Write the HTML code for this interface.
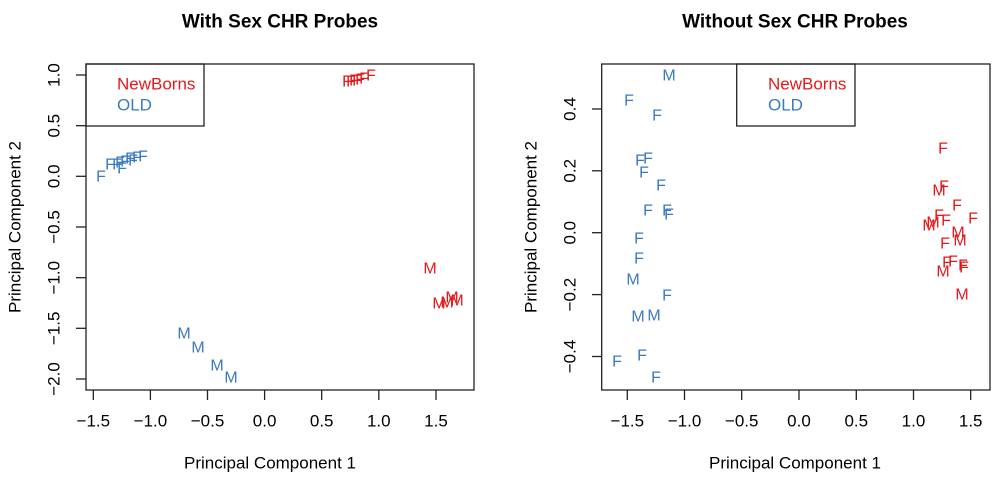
<!DOCTYPE html>
<html><head><meta charset="utf-8"><style>
body{margin:0;background:#fff}
svg{display:block;font-family:"Liberation Sans",Arial,sans-serif}
.r{fill:#e31a1c}.b{fill:#3a7bbf}
text{dominant-baseline:central}
.pt{font-size:16px;text-anchor:middle}
.tk{font-size:17px;text-anchor:middle;fill:#000}
</style></head><body>
<svg width="1000" height="479" viewBox="0 0 1000 479">
<!-- LEFT PLOT -->
<text x="280" y="22" font-size="19" font-weight="bold" text-anchor="middle">With Sex CHR Probes</text>
<rect x="86" y="64" width="388" height="326" fill="none" stroke="#222" stroke-width="1.3"/>
<g stroke="#222" stroke-width="1.3">
<line x1="93.3" y1="390" x2="93.3" y2="400"/><line x1="150.4" y1="390" x2="150.4" y2="400"/><line x1="207.5" y1="390" x2="207.5" y2="400"/><line x1="264.6" y1="390" x2="264.6" y2="400"/><line x1="321.7" y1="390" x2="321.7" y2="400"/><line x1="378.8" y1="390" x2="378.8" y2="400"/><line x1="436" y1="390" x2="436" y2="400"/>
<line x1="76" y1="75" x2="86" y2="75"/><line x1="76" y1="125.7" x2="86" y2="125.7"/><line x1="76" y1="176.3" x2="86" y2="176.3"/><line x1="76" y1="227" x2="86" y2="227"/><line x1="76" y1="277.7" x2="86" y2="277.7"/><line x1="76" y1="328.3" x2="86" y2="328.3"/><line x1="76" y1="379" x2="86" y2="379"/>
</g>
<g class="tk">
<text x="93.3" y="421">−1.5</text><text x="150.4" y="421">−1.0</text><text x="207.5" y="421">−0.5</text><text x="264.6" y="421">0.0</text><text x="321.7" y="421">0.5</text><text x="378.8" y="421">1.0</text><text x="436" y="421">1.5</text>
</g>
<g class="tk">
<text transform="translate(54,75) rotate(-90)">1.0</text><text transform="translate(54,125.7) rotate(-90)">0.5</text><text transform="translate(54,176.3) rotate(-90)">0.0</text><text transform="translate(54,227) rotate(-90)">−0.5</text><text transform="translate(54,277.7) rotate(-90)">−1.0</text><text transform="translate(54,328.3) rotate(-90)">−1.5</text><text transform="translate(54,379) rotate(-90)">−2.0</text>
</g>
<text x="270" y="463" font-size="17" text-anchor="middle">Principal Component 1</text>
<text transform="translate(15,227) rotate(-90)" font-size="17" text-anchor="middle">Principal Component 2</text>
<rect x="86" y="64" width="118" height="62" fill="none" stroke="#222" stroke-width="1.3"/>
<text x="117" y="84" font-size="17" class="r">NewBorns</text>
<text x="117" y="105" font-size="17" class="b">OLD</text>
<g class="pt r">
<text x="347" y="82">F</text><text x="351" y="82">F</text><text x="354" y="81">F</text><text x="357" y="81">F</text><text x="360" y="80">F</text><text x="364" y="79">F</text><text x="371" y="76">F</text>
<text x="430" y="269">M</text><text x="439" y="304">M</text><text x="447" y="303">M</text><text x="452" y="298">M</text><text x="457" y="301">M</text>
</g>
<g class="pt b">
<text x="101" y="177">F</text><text x="110" y="165">F</text><text x="117" y="165">F</text><text x="122" y="169">F</text><text x="125" y="162">F</text><text x="130" y="159">F</text><text x="137" y="158">F</text><text x="143" y="157">F</text><text x="120" y="163">F</text><text x="133" y="161">F</text>
<text x="184" y="334">M</text><text x="198" y="348">M</text><text x="217" y="366">M</text><text x="231" y="378">M</text>
</g>

<!-- RIGHT PLOT -->
<text x="795" y="22" font-size="19" font-weight="bold" text-anchor="middle">Without Sex CHR Probes</text>
<rect x="601.7" y="64" width="388.3" height="326" fill="none" stroke="#222" stroke-width="1.3"/>
<g stroke="#222" stroke-width="1.3">
<line x1="627.3" y1="390" x2="627.3" y2="400"/><line x1="684.5" y1="390" x2="684.5" y2="400"/><line x1="741.7" y1="390" x2="741.7" y2="400"/><line x1="799" y1="390" x2="799" y2="400"/><line x1="856.3" y1="390" x2="856.3" y2="400"/><line x1="913.5" y1="390" x2="913.5" y2="400"/><line x1="970.7" y1="390" x2="970.7" y2="400"/>
<line x1="592" y1="109" x2="601.7" y2="109"/><line x1="592" y1="170.8" x2="601.7" y2="170.8"/><line x1="592" y1="232.7" x2="601.7" y2="232.7"/><line x1="592" y1="294.6" x2="601.7" y2="294.6"/><line x1="592" y1="356.5" x2="601.7" y2="356.5"/>
</g>
<g class="tk">
<text x="627.3" y="421">−1.5</text><text x="684.5" y="421">−1.0</text><text x="741.7" y="421">−0.5</text><text x="799" y="421">0.0</text><text x="856.3" y="421">0.5</text><text x="913.5" y="421">1.0</text><text x="970.7" y="421">1.5</text>
</g>
<g class="tk">
<text transform="translate(570,109) rotate(-90)">0.4</text><text transform="translate(570,170.8) rotate(-90)">0.2</text><text transform="translate(570,232.7) rotate(-90)">0.0</text><text transform="translate(570,294.6) rotate(-90)">−0.2</text><text transform="translate(570,356.5) rotate(-90)">−0.4</text>
</g>
<text x="795" y="463" font-size="17" text-anchor="middle">Principal Component 1</text>
<text transform="translate(531,227) rotate(-90)" font-size="17" text-anchor="middle">Principal Component 2</text>
<rect x="736.7" y="64" width="118.3" height="62" fill="none" stroke="#222" stroke-width="1.3"/>
<text x="768" y="84" font-size="17" class="r">NewBorns</text>
<text x="768" y="105" font-size="17" class="b">OLD</text>
<g class="pt b">
<text x="669" y="76">M</text><text x="629" y="101">F</text><text x="657" y="116">F</text><text x="640" y="161">F</text><text x="648" y="159">F</text><text x="644" y="173">F</text><text x="661" y="186">F</text><text x="648" y="211">F</text><text x="667" y="211">F</text><text x="669" y="215">F</text><text x="639" y="239">F</text><text x="639" y="259">F</text><text x="633" y="280">M</text><text x="667" y="296">F</text><text x="638" y="317">M</text><text x="654" y="316">M</text><text x="617" y="362">F</text><text x="642" y="356">F</text><text x="656" y="378">F</text>
</g>
<g class="pt r">
<text x="943" y="149">F</text><text x="944" y="187">F</text><text x="939" y="191">M</text><text x="957" y="206">F</text><text x="973" y="219">F</text><text x="939" y="216">F</text><text x="946" y="221">F</text><text x="929" y="226">M</text><text x="933" y="223">M</text><text x="958" y="233">M</text><text x="945" y="244">F</text><text x="960" y="241">M</text><text x="947" y="263">F</text><text x="953" y="262">F</text><text x="943" y="272">M</text><text x="963" y="266">F</text><text x="964" y="268">F</text><text x="962" y="295">M</text>
</g>
</svg>
</body></html>
